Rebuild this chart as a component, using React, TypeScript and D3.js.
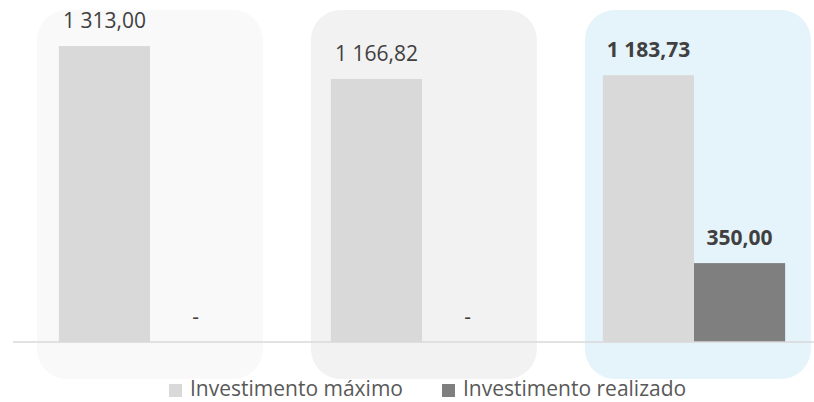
import React, { useEffect, useRef } from 'react';
import * as d3 from 'd3';

// groups (no category labels are shown on the chart)
const groups = ['g1', 'g2', 'g3'];
const seriesNames = ['Investimento máximo', 'Investimento realizado'];
const maxInvest = [1313.0, 1166.82, 1183.73];
const realInvest = [0, 0, 350.0];
const highlighted = [false, false, true];

const panelColors = ['#f9f9f9', '#f2f2f2', '#e5f3fb'];
const barColors = ['#d9d9d9', '#7f7f7f'];

const W = 814;
const H = 402;
const baseY = 342;

const locale = d3.formatLocale({ decimal: ',', thousands: ' ', grouping: [3], currency: ['', ''] });
const fmt = locale.format(',.2f');
const label = (v: number) => (v === 0 ? '-' : fmt(v));

export default function App() {
  const node = useRef<SVGSVGElement>(null);

  useEffect(() => {
    document.body.style.margin = '0';
    const svg = d3.select(node.current);
    svg.selectAll('*').remove();

    const x0 = d3.scaleBand<string>().domain(groups).range([14, 830]).paddingInner(0.33).paddingOuter(0.165);
    const x1 = d3.scaleBand<string>().domain(seriesNames).range([0, x0.bandwidth()]);
    const y = d3.scaleLinear().domain([0, 1400]).range([baseY, baseY - 1400 * 0.2254]);

    // rounded background panels
    svg.append('g')
      .selectAll('rect')
      .data(groups)
      .join('rect')
      .attr('x', (d, i) => (x0(d) as number) - 22 + i * 2)
      .attr('y', 10)
      .attr('width', 226)
      .attr('height', 369)
      .attr('rx', 30)
      .attr('fill', (d, i) => panelColors[i]);

    const rows = groups.map((g, i) => ({
      g,
      i,
      vals: [maxInvest[i], realInvest[i]],
    }));

    const grp = svg.append('g')
      .selectAll('g')
      .data(rows)
      .join('g')
      .attr('transform', (d) => `translate(${x0(d.g)},0)`);

    grp.selectAll('rect')
      .data((d) => d.vals.map((v, k) => ({ v, k })))
      .join('rect')
      .attr('x', (d) => x1(seriesNames[d.k]) as number)
      .attr('y', (d) => y(d.v))
      .attr('width', x1.bandwidth())
      .attr('height', (d) => baseY - y(d.v))
      .attr('fill', (d) => barColors[d.k]);

    grp.each(function (row) {
      d3.select(this)
        .selectAll('text')
        .data(row.vals)
        .join('text')
        .attr('x', (v, k) => (x1(seriesNames[k]) as number) + x1.bandwidth() / 2)
        .attr('y', (v) => y(v) - 18)
        .attr('text-anchor', 'middle')
        .attr('font-family', '"Open Sans", sans-serif')
        .attr('font-size', 21)
        .attr('font-weight', highlighted[row.i] ? 'bold' : 'normal')
        .attr('fill', '#404040')
        .text((v) => label(v));
    });

    // axis line
    svg.append('line')
      .attr('x1', 13)
      .attr('x2', W)
      .attr('y1', baseY)
      .attr('y2', baseY)
      .attr('stroke', '#d9d9d9')
      .attr('stroke-width', 1.5);

    // legend
    const legend = svg.append('g')
      .selectAll('g')
      .data(seriesNames)
      .join('g')
      .attr('transform', (d, i) => `translate(${169 + i * 273},0)`);

    legend.append('rect')
      .attr('x', 0)
      .attr('y', 384)
      .attr('width', 13)
      .attr('height', 13)
      .attr('fill', (d, i) => barColors[i]);

    legend.append('text')
      .attr('x', 21)
      .attr('y', 396)
      .attr('font-family', '"Open Sans", sans-serif')
      .attr('font-size', 21)
      .attr('fill', '#595959')
      .text((d) => d);
  }, []);

  return <svg ref={node} width={W} height={H} style={{ display: 'block' }} />;
}
